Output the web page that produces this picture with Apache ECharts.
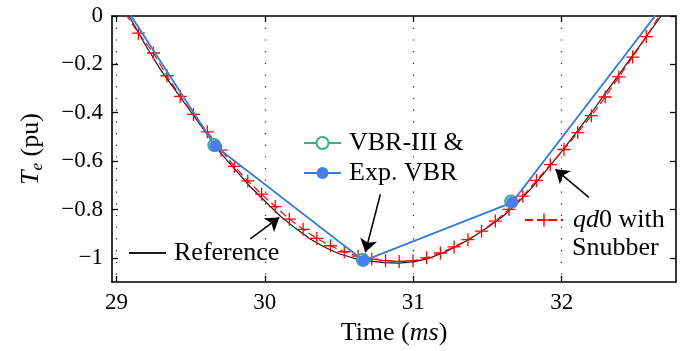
<!DOCTYPE html>
<html><head><meta charset="utf-8">
<script src="https://cdn.jsdelivr.net/npm/echarts@6/dist/echarts.min.js"></script>
<style>html,body{margin:0;padding:0;background:#fff}#c{width:690px;height:351px}</style>
</head><body><div id="c"></div>
<script>
// ---- data (time in ms, torque in pu) ----
const refT = [29.085,29.20,29.30,29.40,29.50,29.60,29.70,29.80,29.90,30.00,30.10,30.20,30.30,30.40,30.50,30.60,30.70,30.80,30.90,31.00,31.10,31.20,31.30,31.40,31.50,31.60,31.70,31.80,31.90,32.00,32.10,32.20,32.30,32.40,32.50,32.60,32.67];
const refY = [0,-0.125,-0.225,-0.31,-0.395,-0.48,-0.565,-0.635,-0.705,-0.765,-0.825,-0.875,-0.92,-0.955,-0.983,-1.002,-1.013,-1.02,-1.022,-1.017,-1.003,-0.98,-0.95,-0.915,-0.875,-0.83,-0.775,-0.71,-0.635,-0.56,-0.48,-0.40,-0.315,-0.23,-0.145,-0.06,0.0];

const qdT = [29.06,29.148,29.249,29.340,29.430,29.519,29.612,29.705,29.795,29.885,29.978,30.070,30.165,30.258,30.350,30.442,30.535,30.628,30.720,30.813,30.905,30.998,31.090,31.183,31.275,31.368,31.460,31.553,31.645,31.738,31.830,31.923,32.015,32.108,32.200,32.293,32.385,32.478,32.570,32.663];
const qdY = [0.01,-0.071,-0.153,-0.247,-0.332,-0.407,-0.479,-0.555,-0.622,-0.682,-0.737,-0.788,-0.840,-0.882,-0.920,-0.950,-0.975,-0.993,-1.005,-1.012,-1.015,-1.012,-1.000,-0.980,-0.955,-0.925,-0.890,-0.848,-0.800,-0.745,-0.680,-0.615,-0.552,-0.482,-0.412,-0.335,-0.252,-0.170,-0.085,0.005];

// VBR-III and Exp. VBR coincide (sampled every 1 ms)
const vbrT = [28.666,29.666,30.666,31.666,32.666];
const vbrY = [0.411,-0.538,-1.012,-0.771,0.03];
const vbr3T = [28.666,29.666,30.666,31.666,32.666];
const vbr3Y = [0.411,-0.538,-1.012,-0.771,0.03];

const xTicks = [29,30,31,32];
const yTicks = [0,-0.2,-0.4,-0.6,-0.8,-1];
const yTickLabels = ['0','\u22120.2','\u22120.4','\u22120.6','\u22120.8','\u22121'];

// arrows: [tailT, tailY, tipT, tipY]
const arrowVBR = [30.778,-0.737,30.677,-0.977];
const arrowRef = [29.902,-0.922,30.097,-0.833];
const arrowQd = [32.183,-0.750,31.958,-0.634];

const names = {ref:'Reference', qd:'qd0 with Snubber', v3:'VBR-III &', vexp:'Exp. VBR'};

const zip = (a,b) => a.map((v,i)=>[v,b[i]]);
const FF = '"Liberation Serif", "Times New Roman", serif';

const chart = echarts.init(document.getElementById('c'), null, {renderer:'canvas'});
const axisLineStyle = {color:'#000', width:1.6};
const tickStyle = {color:'#000', width:1.3};

const option = {
  animation:false,
  backgroundColor:'#fff',
  grid:{left:112, top:16, right:14, bottom:68},
  xAxis:[{
    type:'value', min:28.97, max:32.77, position:'bottom',
    axisLine:{show:true, onZero:false, lineStyle:axisLineStyle},
    axisTick:{show:true, inside:true, length:6, customValues:xTicks, lineStyle:tickStyle},
    axisLabel:{customValues:xTicks, margin:9, fontFamily:FF, fontSize:23, color:'#000'},
    splitLine:{show:true, lineStyle:{color:'#222', width:1.2, type:[1.2,10.5]}},
    name:'{n|Time (}{it|ms}{n|)}', nameLocation:'middle', nameGap:38,
    nameTextStyle:{fontFamily:FF, fontSize:26, color:'#000',
      rich:{n:{fontFamily:FF, fontSize:26, color:'#000'}, it:{fontFamily:FF, fontSize:26, fontStyle:'italic', color:'#000'}}}
  },{
    type:'value', min:28.97, max:32.77, position:'top',
    axisLine:{show:true, onZero:false, lineStyle:axisLineStyle},
    axisTick:{show:true, inside:true, length:6, customValues:xTicks, lineStyle:tickStyle},
    axisLabel:{show:false}, splitLine:{show:false}
  }],
  yAxis:[{
    type:'value', min:-1.1, max:0, position:'left',
    axisLine:{show:true, onZero:false, lineStyle:axisLineStyle},
    axisTick:{show:true, inside:true, length:6, customValues:yTicks, lineStyle:tickStyle},
    axisLabel:{customValues:yTicks, margin:9, fontFamily:FF, fontSize:23, color:'#000',
      formatter:(v)=>{const i=yTicks.findIndex(t=>Math.abs(t-v)<1e-6); return i>=0?yTickLabels[i]:'';}},
    splitLine:{show:false},
    name:'{it|T}{sub|e}{n| (pu)}', nameLocation:'middle', nameGap:66, nameRotate:90,
    nameTextStyle:{fontFamily:FF, fontSize:26, color:'#000',
      rich:{it:{fontFamily:FF, fontSize:26, fontStyle:'italic', lineHeight:30, color:'#000'},
            sub:{fontFamily:FF, fontSize:17, fontStyle:'italic', lineHeight:30, verticalAlign:'bottom', color:'#000'},
            n:{fontFamily:FF, fontSize:26, lineHeight:30, color:'#000'}}}
  },{
    type:'value', min:-1.1, max:0, position:'right',
    axisLine:{show:true, onZero:false, lineStyle:axisLineStyle},
    axisTick:{show:true, inside:true, length:6, customValues:yTicks, lineStyle:tickStyle},
    axisLabel:{show:false}, splitLine:{show:false}
  }],
  legend:[{
    data:[names.v3, names.vexp], orient:'vertical', left:303, top:130,
    itemWidth:37, itemHeight:15, itemGap:4, padding:0,
    textStyle:{fontFamily:FF, fontSize:26, lineHeight:26, color:'#000', padding:[0,0,0,3]}
  },{
    data:[names.ref], left:128, top:240, itemWidth:37, itemHeight:15, padding:0,
    itemStyle:{opacity:0},
    textStyle:{fontFamily:FF, fontSize:26, lineHeight:26, color:'#000', padding:[0,0,0,3]}
  },{
    data:[names.qd], left:524, top:207, itemWidth:38, itemHeight:16, padding:0,
    itemStyle:{borderWidth:1.4},
    formatter:()=>'{i|qd}{n|0 with}',
    textStyle:{fontFamily:FF, fontSize:26, lineHeight:26, color:'#000', padding:[0,0,0,5],
      rich:{i:{fontFamily:FF, fontSize:26, fontStyle:'italic', color:'#000'}, n:{fontFamily:FF, fontSize:26, color:'#000'}}}
  }],
  graphic:[{type:'text', left:572, top:235, style:{text:'Snubber', font:'26px "Liberation Serif"', fill:'#000'}}],
  series:[{
    name:names.ref, type:'line', data:zip(refT,refY), symbol:'none', z:2,
    color:'#1a1a1a', lineStyle:{color:'#1a1a1a', width:1.2}
  },{
    name:names.qd, type:'line', data:zip(qdT,qdY), z:3,
    symbol:'path://M0,6H12M6,0V12', symbolSize:13, showAllSymbol:true,
    color:'#ff0000',
    itemStyle:{color:'#ff0000', borderColor:'#ff0000', borderWidth:1.3},
    lineStyle:{color:'#ff0000', width:1.2, type:[8,4]}
  },{
    name:names.v3, type:'line', data:zip(vbr3T,vbr3Y), z:4,
    symbol:'emptyCircle', symbolSize:12, symbolOffset:[-1,-1], color:'#35b37e',
    itemStyle:{color:'#35b37e', borderWidth:1.5},
    lineStyle:{color:'#35b37e', width:1.5}
  },{
    name:names.vexp, type:'line', data:zip(vbrT,vbrY), z:5,
    symbol:'circle', symbolSize:12, color:'#4a7cf3',
    itemStyle:{color:'#4a7cf3', borderWidth:0},
    lineStyle:{color:'#3a78e6', width:1.6}
  },{
    name:'arrows', type:'line', data:[], z:6,
    markLine:{silent:true, symbol:['none','arrow'], symbolSize:13, animation:false,
      label:{show:false}, lineStyle:{color:'#000', width:1.5, type:'solid'},
      emphasis:{disabled:true},
      data:[arrowVBR, arrowRef, arrowQd].map(a=>[{coord:[a[0],a[1]]},{coord:[a[2],a[3]]}])}
  }]
};
chart.setOption(option);
</script>
</body></html>
